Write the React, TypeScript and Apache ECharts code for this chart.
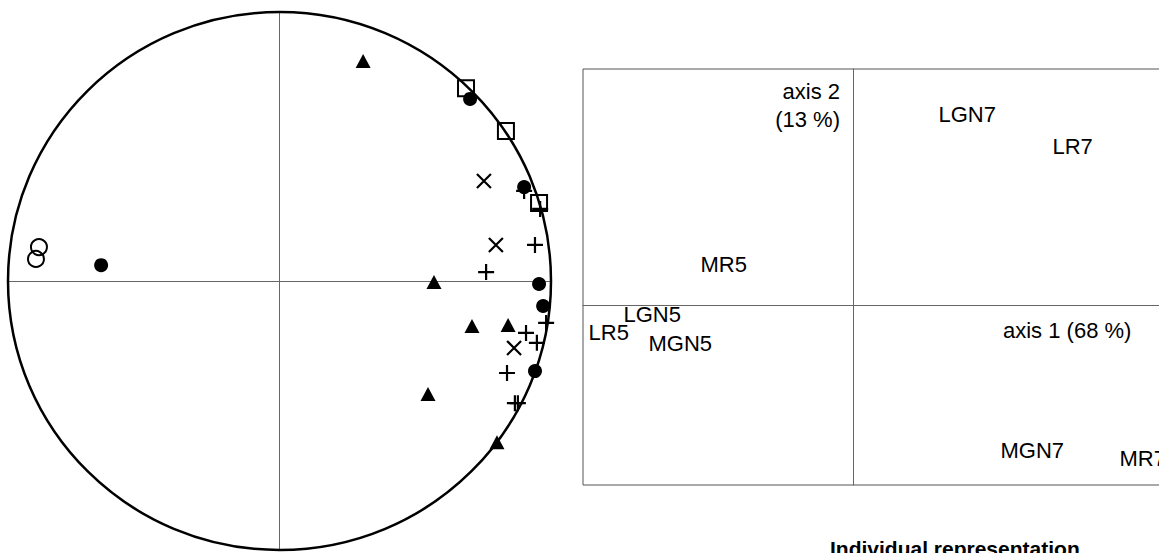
import React, { useEffect, useRef } from "react";
import * as echarts from "echarts";

// Correlation circle (variables), coordinates on axis 1 / axis 2
const openCircles = [[-0.886, 0.126], [-0.897, 0.082]];
const filledCircles = [[-0.657, 0.059], [0.702, 0.677], [0.901, 0.349], [0.956, -0.011], [0.971, -0.093], [0.941, -0.335]];
const squares = [[0.687, 0.717], [0.834, 0.558], [0.956, 0.29]];
const triangles = [[0.308, 0.818], [0.569, -0.004], [0.709, -0.167], [0.842, -0.164], [0.547, -0.42], [0.801, -0.599]];
const crosses = [[0.753, 0.372], [0.797, 0.134], [0.864, -0.249]];
const pluses = [[0.901, 0.335], [0.96, 0.268], [0.941, 0.134], [0.761, 0.033], [0.982, -0.156], [0.908, -0.193], [0.948, -0.23], [0.838, -0.342], [0.867, -0.454], [0.878, -0.454]];

// Individual representation
const individualNames = ["LGN7", "LR7", "MR5", "LGN5", "LR5", "MGN5", "MGN7", "MR7"];
const individualX = [0.944, 2.211, -1.7, -2.556, -2.944, -2.278, 1.633, 2.956];
const individualY = [2.111, 1.756, 0.444, -0.111, -0.311, -0.433, -1.622, -1.711];

const axis1Label = "axis 1 (68 %)";
const axis2Label = "axis 2\n(13 %)";
const panelTitle = "Individual representation";

const FONT = "'Liberation Sans', Arial, sans-serif";

export default function App() {
  const ref = useRef<HTMLDivElement>(null);
  useEffect(() => {
    if (!ref.current) return;
    const chart = echarts.init(ref.current, null, { renderer: "svg" });
    const hiddenAxis = (gridIndex: number, min: number, max: number) => ({
      gridIndex,
      type: "value",
      min,
      max,
      axisLine: { show: true, onZero: true, lineStyle: { color: "#666", width: 1 } },
      axisTick: { show: false },
      axisLabel: { show: false },
      splitLine: { show: false },
    });
    const mk = (name: string, data: number[][], symbol: string, size: number | number[], style: any) => ({
      name,
      type: "scatter",
      xAxisIndex: 0,
      yAxisIndex: 0,
      data,
      symbol,
      symbolSize: size,
      itemStyle: { opacity: 1, ...style },
      z: 5,
    });
    const individuals = individualNames.map((n, i) => [individualX[i], individualY[i], n]);
    chart.setOption({
      animation: false,
      backgroundColor: "#fff",
      grid: [
        { left: 8, top: 12, width: 543, height: 538, show: false },
        { left: 583, top: 69, width: 600, height: 416, show: true, borderColor: "#555", borderWidth: 1, backgroundColor: "transparent" },
      ],
      xAxis: [hiddenAxis(0, -1, 1), hiddenAxis(1, -3, 3.6667)],
      yAxis: [hiddenAxis(0, -1, 1), hiddenAxis(1, -2, 2.62)],
      series: [
        mk("open", openCircles, "circle", 16, { color: "rgba(0,0,0,0)", borderColor: "#000", borderWidth: 2 }),
        mk("square", squares, "rect", 16, { color: "rgba(0,0,0,0)", borderColor: "#000", borderWidth: 2 }),
        mk("filled", filledCircles, "circle", 14, { color: "#000" }),
        mk("triangle", triangles, "triangle", [15, 14], { color: "#000" }),
        mk("cross", crosses, "path://M0,0L10,10M10,0L0,10", 14, { color: "rgba(0,0,0,0)", borderColor: "#000", borderWidth: 2.2 }),
        mk("plus", pluses, "path://M5,0L5,10M0,5L10,5", 16, { color: "rgba(0,0,0,0)", borderColor: "#000", borderWidth: 2.2 }),
        {
          name: "individuals",
          type: "scatter",
          xAxisIndex: 1,
          yAxisIndex: 1,
          data: individuals,
          symbolSize: 1,
          itemStyle: { color: "rgba(0,0,0,0)", opacity: 1 },
          label: {
            show: true,
            position: "right",
            distance: 0,
            formatter: (p: any) => p.data[2],
            fontSize: 22,
            fontFamily: FONT,
            color: "#000",
            opacity: 1,
          },
        },
      ],
    });
    const c = chart.convertToPixel({ gridIndex: 0 }, [0, 0]) as number[];
    const e = chart.convertToPixel({ gridIndex: 0 }, [1, 1]) as number[];
    chart.setOption({
      graphic: [
        {
          type: "ellipse",
          shape: { cx: c[0], cy: c[1], rx: Math.abs(e[0] - c[0]), ry: Math.abs(c[1] - e[1]) },
          style: { fill: "none", stroke: "#000", lineWidth: 2.5 },
          z: 1,
        },
        {
          type: "text",
          x: 840,
          y: 77,
          style: { text: axis2Label, align: "right", verticalAlign: "top", fontSize: 22, lineHeight: 28, fontFamily: FONT, fill: "#000" },
          z: 10,
        },
        {
          type: "text",
          x: 1003,
          y: 319,
          style: { text: axis1Label, align: "left", verticalAlign: "top", fontSize: 22, fontFamily: FONT, fill: "#000" },
          z: 10,
        },
        {
          type: "text",
          x: 830,
          y: 538,
          style: { text: panelTitle, align: "left", verticalAlign: "top", fontSize: 21, fontWeight: "bold", fontFamily: FONT, fill: "#000" },
          z: 10,
        },
      ],
    });
    return () => chart.dispose();
  }, []);
  return (
    <div style={{ position: "fixed", left: 0, top: 0, width: 1159, height: 553, overflow: "hidden", background: "#fff" }}>
      <div ref={ref} style={{ width: 1200, height: 553 }} />
    </div>
  );
}
